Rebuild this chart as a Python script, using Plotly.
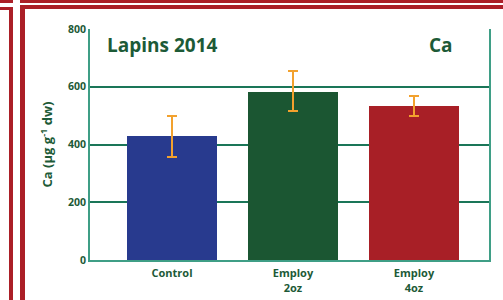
import plotly.graph_objects as go

categories = ["Control", "Employ<br>2oz", "Employ<br>4oz"]
values = [430, 583, 535]
err_plus = [70, 72, 32]
err_minus = [72, 68, 35]
bar_colors = ["#283a8e", "#1b5632", "#a81f26"]
y_ticks = [0, 200, 400, 600, 800]

GREEN = "#1d5a37"
TEAL = "#3f9e86"
GRID = "#1a7658"
RED = "#ab1f27"
ERR = "#f2a12e"

fig = go.Figure()
fig.add_trace(go.Bar(
    x=list(range(len(categories))), y=values,
    marker=dict(color=bar_colors, line=dict(width=0)),
    width=0.737,
    hoverinfo="skip",
    error_y=dict(type="data", symmetric=False, array=err_plus, arrayminus=err_minus,
                 color=ERR, thickness=2, width=5),
))

L, R, T, B = 90, 14, 29, 40
W, H = 503, 300
pw, ph = W - L - R, H - T - B

def px(x):
    return (x - L) / pw

def py(y):
    return (H - B - y) / ph

shapes = []
def rect(x0, y0, x1, y1, color=RED):
    shapes.append(dict(type="rect", xref="paper", yref="paper",
                       x0=px(x0), x1=px(x1), y0=py(y1), y1=py(y0),
                       fillcolor=color, line=dict(width=0), layer="above"))

# decorative red borders
rect(0, 0, 13, 3)
rect(20, 0, 503, 3)
rect(20, 5, 503, 9)
rect(0, 7, 13, 10)
rect(9, 7, 13, 300)
rect(20, 5, 25, 300)

fig.update_layout(
    width=W, height=H,
    margin=dict(l=L, r=R, t=T, b=B, autoexpand=False),
    paper_bgcolor="white", plot_bgcolor="white",
    showlegend=False, hovermode=False,
    bargap=0,
    shapes=shapes,
    font=dict(family="Open Sans", color=GREEN),
    xaxis=dict(
        range=[-82 / 121, 317 / 121], automargin=False,
        tickmode="array", tickvals=list(range(len(categories))), ticktext=categories,
        tickfont=dict(size=11, color=GREEN, family="Open Sans", weight="bold"),
        showgrid=False, showline=True, linecolor=TEAL, linewidth=2,
        ticks="", zeroline=False, ticklabelstandoff=2,
    ),
    yaxis=dict(
        range=[0, 800], automargin=False,
        tickmode="array", tickvals=y_ticks, ticktext=[str(v) for v in y_ticks],
        tickfont=dict(size=10.5, color=GREEN, family="Open Sans", weight="bold"),
        showgrid=True, gridcolor=GRID, gridwidth=2,
        showline=True, linecolor=TEAL, linewidth=2, mirror=True,
        zeroline=False, ticks="", ticklen=0,
        title=dict(text="Ca (µg g<sup>-1</sup> dw)", standoff=12,
                   font=dict(size=13, color=GREEN, family="Open Sans", weight="bold")),
    ),
    annotations=[
        dict(text="Lapins 2014", xref="paper", yref="paper", x=px(105), y=py(45),
             xanchor="left", yanchor="middle", showarrow=False,
             font=dict(size=19, color=GREEN, family="Open Sans", weight="bold")),
        dict(text="Ca", xref="paper", yref="paper", x=px(455), y=py(45),
             xanchor="right", yanchor="middle", showarrow=False,
             font=dict(size=19, color=GREEN, family="Open Sans", weight="bold")),
    ],
)

fig.write_html(
    "out.html",
    config={"displayModeBar": False, "staticPlot": True},
    post_script="document.body.style.margin='0';document.body.style.padding='0';document.body.style.overflow='hidden';",
)
